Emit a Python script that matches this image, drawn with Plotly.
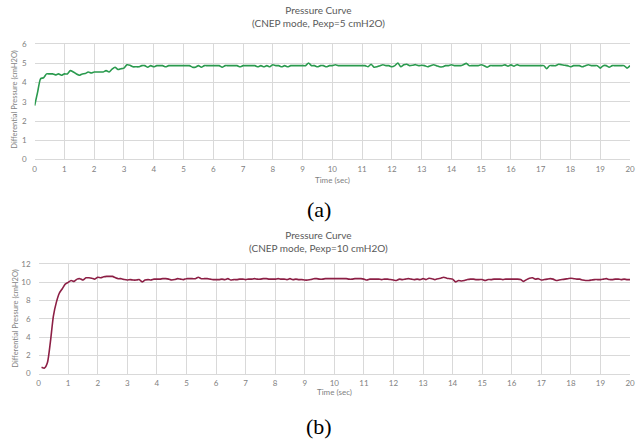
import numpy as np
import plotly.graph_objects as go

# ---- data ----
time_a = np.round(np.arange(0, 20.01, 0.1), 1)
pressure_a = [
    2.80, 3.50, 4.20, 4.25, 4.45, 4.45, 4.45, 4.40, 4.45, 4.38,
    4.45, 4.45, 4.62, 4.55, 4.45, 4.38, 4.45, 4.47, 4.55, 4.50,
    4.55, 4.55, 4.55, 4.55, 4.62, 4.55, 4.70, 4.80, 4.68, 4.72,
    4.75, 4.92, 4.90, 4.82, 4.82, 4.82, 4.88, 4.88, 4.80, 4.88,
    4.82, 4.88, 4.88, 4.88, 4.82, 4.88, 4.88, 4.88, 4.88, 4.88,
    4.88, 4.88, 4.88, 4.80, 4.80, 4.88, 4.80, 4.88, 4.88, 4.88,
    4.88, 4.88, 4.88, 4.80, 4.88, 4.88, 4.88, 4.88, 4.88, 4.82,
    4.88, 4.88, 4.88, 4.88, 4.88, 4.82, 4.88, 4.82, 4.88, 4.82,
    4.93, 4.88, 4.88, 4.82, 4.88, 4.82, 4.88, 4.88, 4.88, 4.88,
    4.88, 4.88, 5.02, 4.88, 4.88, 4.82, 4.88, 4.88, 4.82, 4.88,
    4.88, 4.93, 4.88, 4.88, 4.88, 4.88, 4.88, 4.88, 4.88, 4.88,
    4.88, 4.88, 4.82, 4.95, 4.80, 4.82, 4.88, 4.93, 4.88, 4.88,
    4.82, 4.88, 5.02, 4.82, 4.92, 4.95, 4.88, 4.90, 4.93, 4.88,
    4.90, 4.88, 4.82, 4.88, 4.93, 4.88, 4.82, 4.82, 4.88, 4.88,
    4.93, 4.88, 4.88, 4.88, 4.93, 5.00, 4.88, 4.88, 4.88, 4.88,
    4.93, 4.88, 4.80, 4.88, 4.88, 4.88, 4.88, 4.88, 4.92, 4.85,
    4.92, 4.85, 4.93, 4.88, 4.88, 4.88, 4.88, 4.88, 4.88, 4.88,
    4.88, 4.88, 4.72, 4.88, 4.88, 4.88, 4.95, 4.93, 4.90, 4.88,
    4.82, 4.88, 4.88, 4.88, 4.82, 4.88, 4.93, 4.88, 4.88, 4.88,
    4.75, 4.88, 4.88, 4.80, 4.88, 4.88, 4.88, 4.88, 4.88, 4.75,
    4.88,
]

time_b = np.round(np.arange(0.1, 20.01, 0.1), 1)
pressure_b = [
    0.70, 0.60, 1.20, 3.50, 6.30, 7.80, 8.80, 9.30, 9.80, 10.00,
    10.20, 10.10, 10.35, 10.40, 10.25, 10.50, 10.50, 10.45, 10.35, 10.55,
    10.50, 10.60, 10.65, 10.65, 10.65, 10.50, 10.40, 10.40, 10.30, 10.25,
    10.30, 10.25, 10.25, 10.30, 10.05, 10.25, 10.30, 10.25, 10.35, 10.35,
    10.35, 10.40, 10.40, 10.35, 10.25, 10.30, 10.40, 10.35, 10.30, 10.40,
    10.40, 10.40, 10.40, 10.55, 10.40, 10.40, 10.40, 10.35, 10.30, 10.30,
    10.30, 10.35, 10.30, 10.40, 10.25, 10.30, 10.30, 10.35, 10.35, 10.30,
    10.35, 10.35, 10.40, 10.35, 10.35, 10.40, 10.40, 10.35, 10.35, 10.35,
    10.40, 10.35, 10.35, 10.30, 10.40, 10.30, 10.35, 10.30, 10.30, 10.25,
    10.25, 10.30, 10.40, 10.40, 10.35, 10.35, 10.40, 10.40, 10.40, 10.40,
    10.40, 10.40, 10.40, 10.40, 10.35, 10.35, 10.40, 10.40, 10.40, 10.35,
    10.25, 10.35, 10.35, 10.35, 10.35, 10.30, 10.35, 10.35, 10.30, 10.25,
    10.20, 10.35, 10.30, 10.35, 10.40, 10.35, 10.30, 10.35, 10.30, 10.40,
    10.30, 10.45, 10.40, 10.30, 10.40, 10.45, 10.55, 10.45, 10.40, 10.35,
    10.05, 10.20, 10.15, 10.20, 10.30, 10.35, 10.35, 10.30, 10.30, 10.30,
    10.20, 10.30, 10.30, 10.35, 10.35, 10.35, 10.30, 10.35, 10.35, 10.35,
    10.35, 10.35, 10.30, 10.10, 10.30, 10.45, 10.50, 10.35, 10.40, 10.25,
    10.30, 10.35, 10.40, 10.35, 10.20, 10.25, 10.30, 10.35, 10.40, 10.45,
    10.40, 10.35, 10.35, 10.25, 10.20, 10.20, 10.25, 10.30, 10.30, 10.30,
    10.35, 10.40, 10.30, 10.30, 10.35, 10.35, 10.30, 10.35, 10.30, 10.30,
]

title_a = "Pressure Curve<br>(CNEP mode, Pexp=5 cmH2O)"
title_b = "Pressure Curve<br>(CNEP mode, Pexp=10 cmH2O)"
x_title = "Time (sec)"
y_title = "Differential Pressure (cmH2O)"
caption_a = "(a)"
caption_b = "(b)"

W, H = 640, 447
GREY = "#7f7f7f"
GRID = "#d9d9d9"
FONT = "Lato"

def py(px):
    return 1 - px / H

fig = go.Figure()
fig.add_trace(go.Scatter(x=time_a, y=pressure_a, mode="lines",
                         line=dict(color="#2a9a4e", width=1.6, shape="spline", smoothing=0.6),
                         xaxis="x", yaxis="y", showlegend=False))
fig.add_trace(go.Scatter(x=time_b, y=pressure_b, mode="lines",
                         line=dict(color="#8c1f45", width=1.6, shape="spline", smoothing=0.6),
                         xaxis="x2", yaxis="y2", showlegend=False))

tickfont = dict(family=FONT, size=8, color=GREY)
xcommon = dict(showgrid=True, gridcolor=GRID, gridwidth=1, zeroline=False, ticks="",
               tickfont=tickfont, showline=True, linecolor=GRID, mirror=True,
               ticklabeloverflow="allow", range=[0, 20], dtick=1, ticklabelstandoff=2)
ycommon = dict(showgrid=True, gridcolor=GRID, gridwidth=1, zeroline=False, ticks="",
               tickfont=tickfont, showline=False, ticklabelstandoff=7)

fig.update_layout(
    width=W, height=H,
    margin=dict(l=0, r=0, t=0, b=0),
    paper_bgcolor="white", plot_bgcolor="white",
    font=dict(family=FONT, color=GREY),
    xaxis=dict(domain=[33 / W, 635 / W], anchor="y", **xcommon),
    yaxis=dict(domain=[py(158), py(40)], range=[0, 6], dtick=1, anchor="x", **ycommon),
    xaxis2=dict(domain=[37 / W, 635 / W], anchor="y2", **xcommon),
    yaxis2=dict(domain=[py(377), py(265)], range=[0, 12], dtick=2, anchor="x2", **ycommon),
)

ann = []
ann.append(dict(text=title_a, x=0.5, y=py(12), xref="paper", yref="paper", showarrow=False,
                xanchor="center", yanchor="middle", font=dict(family=FONT, size=10, color="#595959")))
ann.append(dict(text=title_b, x=0.5, y=py(242), xref="paper", yref="paper", showarrow=False,
                xanchor="center", yanchor="middle", font=dict(family=FONT, size=10, color="#595959")))
ann.append(dict(text=x_title, x=(33 + 635) / 2 / W, y=py(179), xref="paper", yref="paper", showarrow=False,
                xanchor="center", yanchor="middle", font=dict(family=FONT, size=8, color=GREY)))
ann.append(dict(text=x_title, x=(37 + 635) / 2 / W, y=py(396), xref="paper", yref="paper", showarrow=False,
                xanchor="center", yanchor="middle", font=dict(family=FONT, size=8, color=GREY)))
ann.append(dict(text=y_title, x=13 / W, y=py(97), xref="paper", yref="paper", showarrow=False,
                textangle=-90, xanchor="center", yanchor="middle", font=dict(family=FONT, size=7.5, color=GREY)))
ann.append(dict(text=y_title, x=14 / W, y=py(321), xref="paper", yref="paper", showarrow=False,
                textangle=-90, xanchor="center", yanchor="middle", font=dict(family=FONT, size=7.5, color=GREY)))
ann.append(dict(text=caption_a, x=0.5, y=py(209), xref="paper", yref="paper", showarrow=False,
                xanchor="center", yanchor="middle", font=dict(family="Liberation Serif", size=22, color="black")))
ann.append(dict(text=caption_b, x=0.5, y=py(431), xref="paper", yref="paper", showarrow=False,
                xanchor="center", yanchor="middle", font=dict(family="Liberation Serif", size=22, color="black")))
fig.update_layout(annotations=ann)

fig.write_html("out.html", config={"displayModeBar": False},
               post_script="document.body.style.margin='0';document.body.style.overflow='hidden';")
